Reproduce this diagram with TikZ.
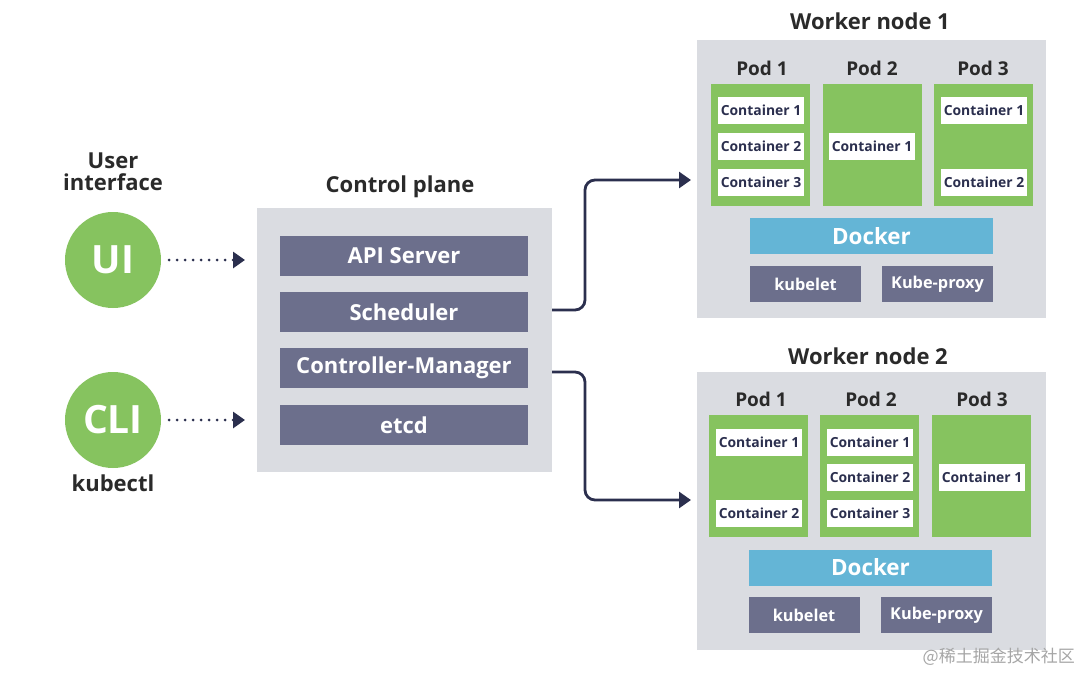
\documentclass[tikz,border=0pt]{standalone}
\usepackage{fontspec}
\setmainfont{Open Sans}
\newfontfamily\cjk{Noto Sans CJK SC}
\usetikzlibrary{arrows.meta}
\definecolor{boxgray}{HTML}{DADCE1}
\definecolor{slate}{HTML}{6C6F8C}
\definecolor{podgreen}{HTML}{86C35F}
\definecolor{dockblue}{HTML}{64B5D6}
\definecolor{navy}{HTML}{2B2F4E}
\definecolor{txt}{HTML}{2A2A2A}
\tikzset{
  gbox/.style={fill=boxgray, draw=none, inner sep=0pt},
  bar/.style={fill=slate, draw=none, inner sep=0pt, minimum width=248pt, minimum height=40pt, text=white, font=\bfseries\fontsize{22}{24}\selectfont},
  pod/.style={fill=podgreen, draw=none, inner sep=0pt, minimum width=99pt, minimum height=122pt},
  cont/.style={fill=white, draw=none, inner sep=0pt, minimum width=86pt, minimum height=27pt, text=navy, font=\bfseries\fontsize{13.9}{16}\selectfont},
  dock/.style={fill=dockblue, draw=none, inner sep=0pt, minimum width=243pt, minimum height=36pt, text=white, font=\bfseries\fontsize{22.4}{26}\selectfont},
  small/.style={fill=slate, draw=none, inner sep=0pt, minimum width=111pt, minimum height=36pt, text=white, font=\bfseries\fontsize{16.3}{19}\selectfont},
  title/.style={text=txt, font=\bfseries\fontsize{22}{23}\selectfont, inner sep=0pt},
  podlbl/.style={text=txt, font=\bfseries\fontsize{19}{20}\selectfont, inner sep=0pt},
  circ/.style={circle, fill=podgreen, draw=none, minimum size=96pt, inner sep=0pt, text=white, font=\bfseries\fontsize{39}{40}\selectfont},
  conn/.style={draw=navy, line width=2.8pt, rounded corners=10pt, -{Triangle[length=12pt,width=16pt]}},
  dots/.style={draw=navy, line width=3pt, line cap=round, dash pattern=on 0pt off 8pt, -{Triangle[length=12pt,width=16pt]}, shorten <=8pt},
}
\begin{document}
\begin{tikzpicture}[x=1pt,y=-1pt]
\useasboundingbox (0,0) rectangle (1080,673);
\fill[white] (0,0) rectangle (1080,673);
% left
\node[title, align=center] (uilbl) at (113,172) {User\\[-1pt]interface};
\node[circ] (ui) at (113,260) {UI};
\node[circ] (cli) at (113,420) {CLI};
\node[title] (kubectl) at (113,483) {kubectl};
% control plane
\node[title] (cplbl) at (400,187) {Control plane};
\node[gbox, minimum width=295pt, minimum height=264pt] (cp) at (404.5,340) {};
\node[bar] (api) at (404,256) {API Server};
\node[bar] (sched) at (404,312) {Scheduler};
\node[bar] (cm) at (404,368) {Controller-Manager};
\node[bar] (etcd) at (404,425) {etcd};
\coordinate (uitgt) at (245,260);
\coordinate (clitgt) at (245,420);
\draw[dots] (ui.east) -- (uitgt);
\draw[dots] (cli.east) -- (clitgt);
% worker 1
\node[title] (w1lbl) at (870,21) {Worker node 1};
\node[gbox, minimum width=349pt, minimum height=278pt] (w1) at (871.5,179) {};
\node[podlbl] (w1p1l) at (762,68) {Pod 1};
\node[podlbl] (w1p2l) at (872,68) {Pod 2};
\node[podlbl] (w1p3l) at (983,68) {Pod 3};
\node[pod] (w1p1) at (760.5,145) {};
\node[pod] (w1p2) at (872,145) {};
\node[pod] (w1p3) at (983.5,145) {};
\node[cont] (w1p1c1) at (761,110.5) {Container 1};
\node[cont] (w1p1c2) at (761,146.5) {Container 2};
\node[cont] (w1p1c3) at (761,182.5) {Container 3};
\node[cont] (w1p2c1) at (872,146.5) {Container 1};
\node[cont] (w1p3c1) at (984,110.5) {Container 1};
\node[cont] (w1p3c2) at (984,182.5) {Container 2};
\node[dock] (w1d) at (871.5,236) {Docker};
\node[small] (w1k) at (805.5,284) {kubelet};
\node[small] (w1kp) at (937.5,284) {Kube-proxy};
% worker 2
\node[title] (w2lbl) at (868,356) {Worker node 2};
\node[gbox, minimum width=349pt, minimum height=278pt] (w2) at (871.5,511) {};
\node[podlbl] (w2p1l) at (761,399) {Pod 1};
\node[podlbl] (w2p2l) at (871,399) {Pod 2};
\node[podlbl] (w2p3l) at (982,399) {Pod 3};
\node[pod] (w2p1) at (758.5,476) {};
\node[pod] (w2p2) at (869.5,476) {};
\node[pod] (w2p3) at (981,476) {};
\node[cont] (w2p1c1) at (759,442.5) {Container 1};
\node[cont] (w2p1c2) at (759,513.5) {Container 2};
\node[cont] (w2p2c1) at (870,442.5) {Container 1};
\node[cont] (w2p2c2) at (870,477.5) {Container 2};
\node[cont] (w2p2c3) at (870,513.5) {Container 3};
\node[cont] (w2p3c1) at (982,477.5) {Container 1};
\node[dock] (w2d) at (870.5,567.5) {Docker};
\node[small] (w2k) at (804,615) {kubelet};
\node[small] (w2kp) at (936.5,615) {Kube-proxy};
% connectors
\coordinate (t1) at (691,180);
\coordinate (t2) at (691,500);
\coordinate (s1) at (cp.east |- 0,310);
\coordinate (s2) at (cp.east |- 0,372);
\draw[conn] (s1) -- (585,310) -- (585,180) -- (t1);
\draw[conn] (s2) -- (585,372) -- (585,500) -- (t2);
% watermark
\node[text=black!35, font=\cjk\fontsize{17}{20}\selectfont, anchor=east, inner sep=0pt] (wm) at (1075,657) {@稀土掘金技术社区};
\end{tikzpicture}
\end{document}
